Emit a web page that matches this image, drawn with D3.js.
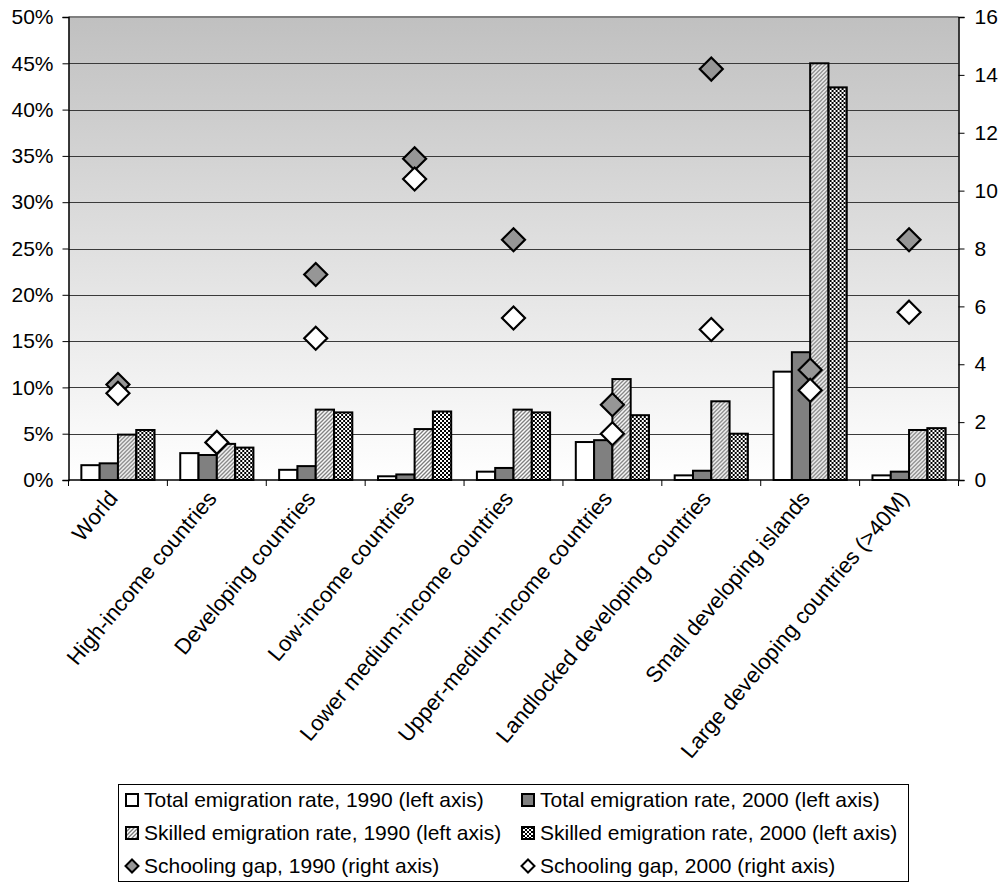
<!DOCTYPE html>
<html>
<head>
<meta charset="utf-8">
<script src="https://cdn.jsdelivr.net/npm/d3@7"></script>
<style>
  html, body { margin: 0; padding: 0; background: #ffffff; }
  svg { display: block; font-family: "Liberation Sans", Arial, sans-serif; }
</style>
</head>
<body>
<svg id="chart" width="1001" height="884"></svg>
<script>
// Country groups
const categories = [
  "World",
  "High-income countries",
  "Developing countries",
  "Low-income countries",
  "Lower medium-income countries",
  "Upper-medium-income countries",
  "Landlocked developing countries",
  "Small developing islands",
  "Large developing countries (>40M)"
];

// Emigration rates, in percent (left axis)
const totalRate1990   = [1.6, 2.9, 1.1, 0.4, 0.9, 4.1, 0.5, 11.7, 0.5];
const totalRate2000   = [1.8, 2.7, 1.5, 0.6, 1.3, 4.3, 1.0, 13.8, 0.9];
const skilledRate1990 = [4.9, 3.9, 7.6, 5.5, 7.6, 10.9, 8.5, 45.0, 5.4];
const skilledRate2000 = [5.4, 3.5, 7.3, 7.4, 7.3, 7.0, 5.0, 42.4, 5.6];

// Schooling gap (right axis)
const schoolingGap1990 = [3.3, null, 7.1, 11.1, 8.3, 2.6, 14.2, 3.8, 8.3];
const schoolingGap2000 = [3.0, 1.3, 4.9, 10.4, 5.6, 1.6, 5.2, 3.1, 5.8];

// Axis ticks
const leftTicks  = [0, 5, 10, 15, 20, 25, 30, 35, 40, 45, 50];
const rightTicks = [0, 2, 4, 6, 8, 10, 12, 14, 16];

const barSeries = [
  { key: "t90", label: "Total emigration rate, 1990 (left axis)",   values: totalRate1990,   fill: "#ffffff" },
  { key: "t00", label: "Total emigration rate, 2000 (left axis)",   values: totalRate2000,   fill: "#808080" },
  { key: "s90", label: "Skilled emigration rate, 1990 (left axis)", values: skilledRate1990, fill: "url(#hatch)" },
  { key: "s00", label: "Skilled emigration rate, 2000 (left axis)", values: skilledRate2000, fill: "url(#checker)" }
];
const pointSeries = [
  { key: "g90", label: "Schooling gap, 1990 (right axis)", values: schoolingGap1990, fill: "#969696" },
  { key: "g00", label: "Schooling gap, 2000 (right axis)", values: schoolingGap2000, fill: "#ffffff" }
];

const svg = d3.select("#chart");
const plot = { left: 68.5, right: 958.5, top: 17, bottom: 480 };
const FONT = 21;
const CAT_FONT = 22;
const CAT_ANGLE = -50;

// ---- defs: background gradient and bar fill patterns
const defs = svg.append("defs");
const grad = defs.append("linearGradient")
  .attr("id", "bg").attr("x1", 0).attr("y1", 0).attr("x2", 0).attr("y2", 1);
grad.append("stop").attr("offset", "0%").attr("stop-color", "#c0c0c0");
grad.append("stop").attr("offset", "100%").attr("stop-color", "#ffffff");

const hatch = defs.append("pattern")
  .attr("id", "hatch").attr("patternUnits", "userSpaceOnUse")
  .attr("width", 4).attr("height", 4);
hatch.append("rect").attr("width", 4).attr("height", 4).attr("fill", "#ffffff");
hatch.append("path")
  .attr("d", "M-1,1 l2,-2 M0,4 l4,-4 M3,5 l2,-2")
  .attr("stroke", "#7a7a7a").attr("stroke-width", 1.3);

const checker = defs.append("pattern")
  .attr("id", "checker").attr("patternUnits", "userSpaceOnUse")
  .attr("width", 4).attr("height", 4);
checker.append("rect").attr("width", 4).attr("height", 4).attr("fill", "#ffffff");
checker.append("rect").attr("x", 0).attr("y", 0).attr("width", 2).attr("height", 2).attr("fill", "#000000");
checker.append("rect").attr("x", 2).attr("y", 2).attr("width", 2).attr("height", 2).attr("fill", "#000000");

// ---- scales
const x = d3.scaleBand()
  .domain(categories)
  .range([plot.left, plot.right])
  .paddingInner(0.26)
  .paddingOuter(0.13);
const xs = d3.scaleBand()
  .domain(barSeries.map(s => s.key))
  .range([0, x.bandwidth()]);
const yL = d3.scaleLinear().domain([0, 50]).range([plot.bottom, plot.top]);
const yR = d3.scaleLinear().domain([0, 16]).range([plot.bottom, plot.top]);

// ---- plot background and gridlines
svg.append("rect")
  .attr("x", plot.left).attr("y", plot.top)
  .attr("width", plot.right - plot.left).attr("height", plot.bottom - plot.top)
  .attr("fill", "url(#bg)");

svg.append("g").selectAll("line")
  .data(leftTicks.filter(t => t > 0 && t < 50))
  .join("line")
  .attr("x1", plot.left).attr("x2", plot.right)
  .attr("y1", d => Math.round(yL(d)) + 0.5).attr("y2", d => Math.round(yL(d)) + 0.5)
  .attr("stroke", "#3a3a3a").attr("stroke-width", 1);

svg.append("line")
  .attr("x1", plot.left).attr("x2", plot.right)
  .attr("y1", yL(50)).attr("y2", yL(50))
  .attr("stroke", "#808080").attr("stroke-width", 2);

// ---- bars
const groups = svg.append("g").selectAll("g")
  .data(categories)
  .join("g")
  .attr("transform", d => `translate(${x(d)},0)`);

groups.selectAll("rect")
  .data((c, i) => barSeries.map(s => ({ s, v: s.values[i] })))
  .join("rect")
  .attr("x", d => xs(d.s.key))
  .attr("width", xs.bandwidth())
  .attr("y", d => yL(d.v))
  .attr("height", d => yL(0) - yL(d.v))
  .attr("fill", d => d.s.fill)
  .attr("stroke", "#000000")
  .attr("stroke-width", 2);

// ---- axes
const leftAxis = d3.axisLeft(yL)
  .tickValues(leftTicks)
  .tickSize(6)
  .tickPadding(9)
  .tickFormat(d => d + "%");
const gL = svg.append("g").attr("transform", `translate(${plot.left},0)`).call(leftAxis);

const rightAxis = d3.axisRight(yR)
  .tickValues(rightTicks)
  .tickSize(6)
  .tickPadding(10)
  .tickFormat(d3.format("d"));
const gR = svg.append("g").attr("transform", `translate(${plot.right},0)`).call(rightAxis);

[gL, gR].forEach(g => {
  g.select(".domain").attr("stroke", "#000000").attr("stroke-width", 1.5);
  g.selectAll(".tick line").attr("stroke", "#000000");
  g.selectAll("text").attr("font-size", FONT).attr("fill", "#000000")
    .attr("font-family", "'Liberation Sans', Arial, sans-serif");
});

// category axis: baseline with ticks between groups
const bounds = d3.range(categories.length + 1).map(i => plot.left + i * x.step());
const gB = svg.append("g");
gB.append("line")
  .attr("x1", plot.left).attr("x2", plot.right)
  .attr("y1", plot.bottom).attr("y2", plot.bottom)
  .attr("stroke", "#000000").attr("stroke-width", 1.5);
gB.selectAll("line.tick")
  .data(bounds)
  .join("line")
  .attr("class", "tick")
  .attr("x1", d => d).attr("x2", d => d)
  .attr("y1", plot.bottom).attr("y2", plot.bottom + 6)
  .attr("stroke", "#000000");

gB.selectAll("text")
  .data(categories)
  .join("text")
  .attr("transform", d => `translate(${x(d) + x.bandwidth() / 2 - 5},${plot.bottom + 14}) rotate(${CAT_ANGLE})`)
  .attr("text-anchor", "end")
  .attr("dy", "0.35em")
  .attr("font-size", CAT_FONT)
  .text(d => d);

// ---- schooling gap diamonds
const diamond = (r) => `M0,${-r} L${r},0 L0,${r} L${-r},0 Z`;
pointSeries.forEach(s => {
  svg.append("g").selectAll("path")
    .data(categories.map((c, i) => ({ c, v: s.values[i] })).filter(d => d.v != null))
    .join("path")
    .attr("transform", d => `translate(${x(d.c) + x.bandwidth() / 2},${yR(d.v)})`)
    .attr("d", diamond(11.5))
    .attr("fill", s.fill)
    .attr("stroke", "#000000")
    .attr("stroke-width", 2.2)
    .attr("stroke-linejoin", "miter");
});

// ---- legend
const legend = svg.append("g");
legend.append("rect")
  .attr("x", 118.5).attr("y", 784.5)
  .attr("width", 790).attr("height", 97)
  .attr("fill", "#ffffff")
  .attr("stroke", "#000000").attr("stroke-width", 1);

const legendItems = [
  { s: barSeries[0], col: 0, row: 0, kind: "bar" },
  { s: barSeries[1], col: 1, row: 0, kind: "bar" },
  { s: barSeries[2], col: 0, row: 1, kind: "bar" },
  { s: barSeries[3], col: 1, row: 1, kind: "bar" },
  { s: pointSeries[0], col: 0, row: 2, kind: "pt" },
  { s: pointSeries[1], col: 1, row: 2, kind: "pt" }
];
const colX = [125, 521];
const rowY = [800, 833, 866];

const li = legend.selectAll("g.item")
  .data(legendItems)
  .join("g")
  .attr("class", "item")
  .attr("transform", d => `translate(${colX[d.col]},${rowY[d.row]})`);

li.filter(d => d.kind === "bar").append("rect")
  .attr("x", 1).attr("y", -6).attr("width", 12).attr("height", 12)
  .attr("fill", d => d.s.fill)
  .attr("stroke", "#000000").attr("stroke-width", 2);

li.filter(d => d.kind === "pt").append("path")
  .attr("transform", "translate(7,0)")
  .attr("d", diamond(6.5))
  .attr("fill", d => d.s.fill)
  .attr("stroke", "#000000").attr("stroke-width", 2);

li.append("text")
  .attr("x", 19).attr("dy", "0.35em")
  .attr("font-size", FONT)
  .text(d => d.s.label);
</script>
</body>
</html>
